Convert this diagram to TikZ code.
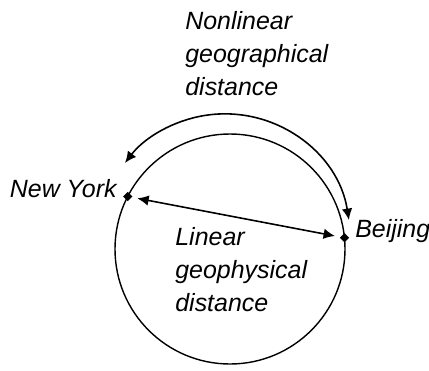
\documentclass[tikz,border=0pt]{standalone}
\usepackage{fontspec}
\setmainfont{Liberation Sans}
\usetikzlibrary{arrows.meta,shapes.geometric}
\begin{document}
\begin{tikzpicture}[x=0.02cm,y=0.02cm,
  every node/.style={font=\fontsize{14.2}{18.8}\selectfont\itshape, inner sep=0pt},
  citydot/.style={diamond,fill=black,minimum size=5.5pt},
  link/.style={line width=0.9pt,{Latex[length=6.5pt,width=6pt]}-{Latex[length=6.5pt,width=6pt]}}]
\useasboundingbox (0,0) rectangle (429,370);
% the globe
\draw[line width=0.8pt] (230,121) circle[radius=115];
\node[citydot] (ny) at (127.7,173.5) {};
\node[citydot] (bj) at (344.5,132.2) {};
\node[anchor=base east] (nylab) at (117,173) {New York};
\node[anchor=base west] (bjlab) at (355,133) {Beijing};
% straight line through the earth
\draw[link, shorten <=3pt, shorten >=3pt] (ny) -- (bj);
% path along the surface
\coordinate (geoR) at (348.9,150);
\draw[link] (geoR) arc[start angle=9,end angle=142.4,radius=125.8];
\node[anchor=north west,align=left] (geolab) at (185,359) {Nonlinear\\geographical\\distance};
\node[anchor=north west,align=left] (phylab) at (175,143) {Linear\\geophysical\\distance};
\end{tikzpicture}
\end{document}
